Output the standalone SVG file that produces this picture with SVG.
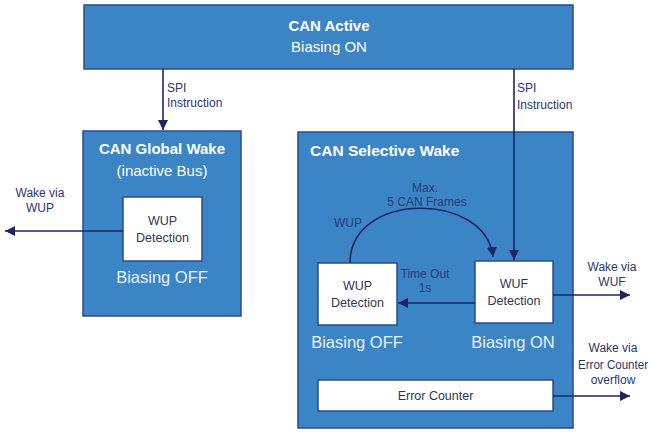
<svg xmlns="http://www.w3.org/2000/svg" width="651" height="432" viewBox="0 0 651 432">
<defs>
<marker id="ah" viewBox="0 0 10 10" refX="10" refY="5" markerWidth="10" markerHeight="10" markerUnits="userSpaceOnUse" orient="auto">
<path d="M0,0 L10,5 L0,10 Z" fill="#1f2466"/>
</marker>
<style>
.blue{fill:#3b85c6;stroke:#2a4b86;stroke-width:1.5}
.white{fill:#ffffff;stroke:#2a4b86;stroke-width:1.5}
.title{font-family:"Liberation Sans",Arial,sans-serif;font-weight:bold;font-size:15px;fill:#ffffff}
.wt{font-family:"Liberation Sans",Arial,sans-serif;font-size:15px;fill:#ffffff}
.big{font-family:"Liberation Sans",Arial,sans-serif;font-size:16.5px;fill:#e8f1fb}
.box{font-family:"Liberation Sans",Arial,sans-serif;font-size:12.5px;fill:#2e3558;text-anchor:middle}
.lbl{font-family:"Liberation Sans",Arial,sans-serif;font-size:12px;fill:#2b3575}
.in{font-family:"Liberation Sans",Arial,sans-serif;font-size:12px;fill:#263a7c}
.con{stroke:#1f2466;stroke-width:1.6;fill:none;marker-end:url(#ah)}
</style>
</defs>
<rect width="651" height="432" fill="#ffffff"/>

<g id="can-active">
<rect class="blue" x="84" y="5" width="489" height="64"/>
<text class="title" x="329" y="31" text-anchor="middle">CAN Active</text>
<text class="wt" x="329" y="52" text-anchor="middle">Biasing ON</text>
</g>

<g id="can-global-wake">
<rect class="blue" x="83" y="131" width="158" height="185"/>
<text class="title" x="162" y="154" text-anchor="middle">CAN Global Wake</text>
<text class="wt" x="162" y="176" text-anchor="middle">(inactive Bus)</text>
<text class="big" x="162" y="283" text-anchor="middle">Biasing OFF</text>
</g>

<g id="global-wup-detection">
<rect class="white" x="123" y="197" width="79" height="64"/>
<text class="box" x="162.5" y="225">WUP</text>
<text class="box" x="162.5" y="242">Detection</text>
</g>

<g id="can-selective-wake">
<rect class="blue" x="298" y="132" width="275" height="296"/>
<text class="title" x="310" y="156" style="font-size:15.5px">CAN Selective Wake</text>
<text class="big" x="357" y="348" text-anchor="middle">Biasing OFF</text>
<text class="big" x="513" y="348" text-anchor="middle">Biasing ON</text>
</g>

<g id="selective-wup-detection">
<rect class="white" x="318" y="263" width="79" height="62"/>
<text class="box" x="357.5" y="290">WUP</text>
<text class="box" x="357.5" y="307">Detection</text>
</g>

<g id="wuf-detection">
<rect class="white" x="475" y="261" width="78" height="62"/>
<text class="box" x="514" y="288">WUF</text>
<text class="box" x="514" y="305">Detection</text>
</g>

<g id="error-counter">
<rect class="white" x="318" y="380" width="235" height="31"/>
<text class="box" x="435.5" y="400">Error Counter</text>
</g>

<g id="connectors">
<line class="con" x1="163" y1="69" x2="163" y2="130"/>
<line class="con" x1="514" y1="69" x2="514" y2="260"/>
<path class="con" d="M350,263 C350,191 486,191 493,257"/>
<line class="con" x1="475" y1="303" x2="398" y2="303"/>
<line class="con" x1="123" y1="231" x2="5" y2="231"/>
<line class="con" x1="553" y1="295" x2="630" y2="295"/>
<line class="con" x1="553" y1="396" x2="630" y2="396"/>
</g>

<g id="labels">
<text class="lbl" x="167" y="92">SPI</text>
<text class="lbl" x="167" y="107">Instruction</text>
<text class="lbl" x="517" y="92">SPI</text>
<text class="lbl" x="517" y="109">Instruction</text>
<text class="lbl" x="40" y="197" text-anchor="middle">Wake via</text>
<text class="lbl" x="40" y="212" text-anchor="middle">WUP</text>
<text class="lbl" x="612" y="271" text-anchor="middle">Wake via</text>
<text class="lbl" x="612" y="286" text-anchor="middle">WUF</text>
<text class="lbl" x="613" y="352" text-anchor="middle">Wake via</text>
<text class="lbl" x="613" y="369" text-anchor="middle" textLength="70" lengthAdjust="spacingAndGlyphs">Error Counter</text>
<text class="lbl" x="613" y="384" text-anchor="middle">overflow</text>
<text class="in" x="425" y="192" text-anchor="middle">Max.</text>
<text class="in" x="427" y="206" text-anchor="middle">5 CAN Frames</text>
<text class="in" x="348" y="227" text-anchor="middle">WUP</text>
<text class="in" x="425" y="278" text-anchor="middle">Time Out</text>
<text class="in" x="425" y="292" text-anchor="middle">1s</text>
</g>
</svg>
